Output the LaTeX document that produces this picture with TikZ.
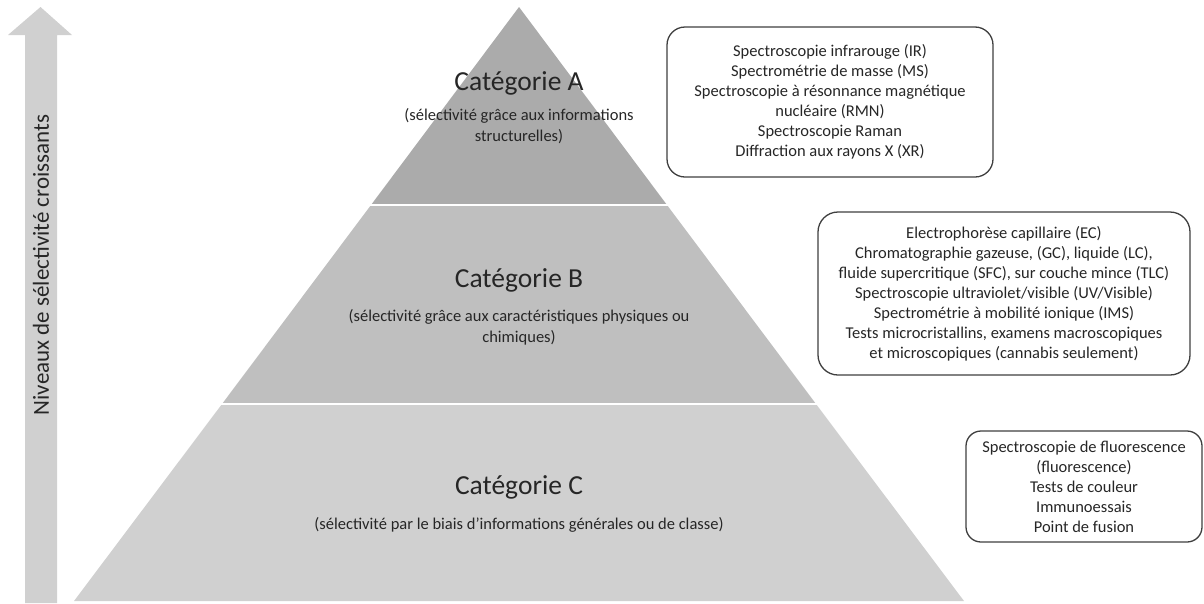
\documentclass[tikz,border=0pt]{standalone}
\usepackage{fontspec}
\setmainfont{Carlito}
\definecolor{layA}{HTML}{ABABAB}
\definecolor{layB}{HTML}{BFBFBF}
\definecolor{layC}{HTML}{D0D0D0}
\definecolor{arrowgray}{HTML}{D0D0D0}
\definecolor{txt}{HTML}{262626}
\definecolor{boxline}{HTML}{3F3F3F}
\begin{document}
\begin{tikzpicture}[x=1pt,y=-1pt,
  title/.style={text=txt,font=\fontsize{27.5}{32}\selectfont,inner sep=0pt},
  subtitle/.style={text=txt,font=\fontsize{16.5}{21}\selectfont,align=center,inner sep=0pt},
  listbox/.style={draw=boxline,line width=1.3pt,rounded corners=18pt,text=txt,
    font=\fontsize{16.5}{20}\selectfont,align=center,inner sep=0pt}]
\useasboundingbox (0,0) rectangle (1204,603);
% arrow
\fill[arrowgray] (25,603) -- (25,35) -- (8,35) -- (40.5,7) -- (72,35) -- (57,35) -- (57,603) -- cycle;
\node[rotate=90,text=txt,font=\fontsize{23}{27}\selectfont,inner sep=0pt] (axis) at (41,265) {Niveaux de sélectivité croissants};
% pyramid
\coordinate (apex) at (519,7);
\coordinate (bl) at (74,601);
\coordinate (br) at (964,601);
\fill[layA] (apex) -- (371,205) -- (667,205) -- cycle;
\fill[layB] (371,205) -- (222,404) -- (816,404) -- (667,205) -- cycle;
\fill[layC] (222,404) -- (bl) -- (br) -- (816,404) -- cycle;
\draw[white,line width=2pt] (360,205) -- (680,205);
\draw[white,line width=2pt] (210,404) -- (830,404);
% texts
\node[title] (catA) at (519,83) {Catégorie A};
\node[subtitle] (subA) at (519,126) {(sélectivité grâce aux informations\\structurelles)};
\node[title] (catB) at (519,280) {Catégorie B};
\node[subtitle] (subB) at (519,327) {(sélectivité grâce aux caractéristiques physiques ou\\chimiques)};
\node[title] (catC) at (519,487) {Catégorie C};
\node[subtitle] (subC) at (519,525) {(sélectivité par le biais d’informations générales ou de classe)};
% boxes
\node[listbox,minimum width=326pt,minimum height=150pt] (boxA) at (830,102)
 {Spectroscopie infrarouge (IR)\\Spectrométrie de masse (MS)\\Spectroscopie à résonnance magnétique\\nucléaire (RMN)\\Spectroscopie Raman\\Diffraction aux rayons X (XR)};
\node[listbox,minimum width=372pt,minimum height=163pt,rounded corners=20pt] (boxB) at (1004,293.5)
 {Electrophorèse capillaire (EC)\\Chromatographie gazeuse, (GC), liquide (LC),\\fluide supercritique (SFC), sur couche mince (TLC)\\Spectroscopie ultraviolet/visible (UV/Visible)\\Spectrométrie à mobilité ionique (IMS)\\Tests microcristallins, examens macroscopiques\\et microscopiques (cannabis seulement)};
\node[listbox,minimum width=236pt,minimum height=111pt,rounded corners=15pt] (boxC) at (1084,486.5)
 {Spectroscopie de fluorescence\\(fluorescence)\\Tests de couleur\\Immunoessais\\Point de fusion};
\end{tikzpicture}
\end{document}
